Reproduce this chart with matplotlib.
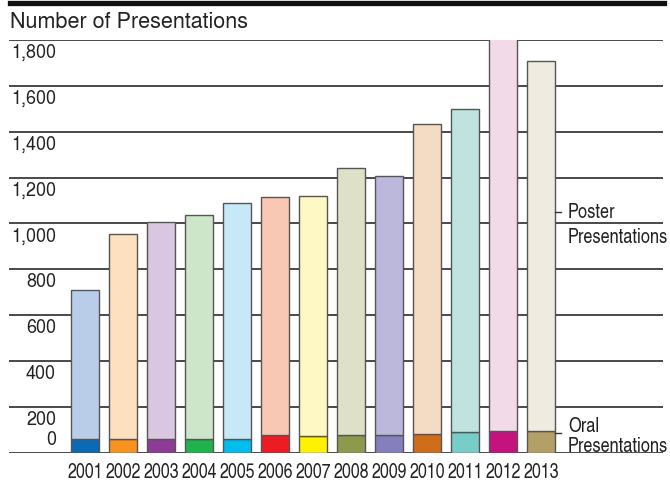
import matplotlib
matplotlib.use('Agg')
import matplotlib.pyplot as plt
from matplotlib.lines import Line2D
from matplotlib.transforms import offset_copy
import numpy as np

# данные
years = ['2001', '2002', '2003', '2004', '2005', '2006', '2007',
         '2008', '2009', '2010', '2011', '2012', '2013']
oral = [58, 58, 58, 58, 58, 77, 73, 77, 76, 80, 90, 95, 95]
poster = [652, 897, 947, 977, 1032, 1037, 1047, 1163, 1132, 1352, 1408, 1730, 1615]
yticks = [0, 200, 400, 600, 800, 1000, 1200, 1400, 1600, 1800]
ytick_labels = ['0', '200', '400', '600', '800', '1,000', '1,200', '1,400', '1,600', '1,800']

oral_colors = ['#0a6ab5', '#f7921e', '#8e3b97', '#20b24b', '#00bdf0', '#ec1c24', '#fef200',
               '#8c9a4c', '#8580bd', '#d06d1b', '#77cdc7', '#c6127f', '#b4a066']
poster_colors = ['#b9cde8', '#fde0c0', '#d9c6e0', '#cde5c9', '#c6e8f7', '#f9c8b4', '#fef8c4',
                 '#dfe0c8', '#bcb8dc', '#f4dbc4', '#c0e3e0', '#f3dae8', '#efebe0']

COND = 'TeX Gyre Heros Cn'
REG = 'TeX Gyre Heros'

W, H = 670, 483
fig = plt.figure(figsize=(W / 100, H / 100), dpi=100)

# оси: слева 9 px, справа 663 px, 0 на 452.7 px, 1800 на 40 px
ax_left, ax_right = 9.3, 663
ax_bottom, ax_top = 452.7, 40
ax = fig.add_axes([ax_left / W, (H - ax_bottom) / H,
                   (ax_right - ax_left) / W, (ax_bottom - ax_top) / H])

x = np.arange(len(years))
# пиксель -> координата: центр 2001 на 85 px, шаг 38 px
step, x0 = 38.0, 85.0
ax.set_xlim((ax_left - x0) / step, (ax_right - x0) / step)
ax.set_ylim(0, 1800)

for v in yticks:
    ax.axhline(v, color='#3a3a3a', lw=1.3, zorder=0)

ax.bar(x, oral, width=0.75, color=oral_colors, edgecolor='#555555', linewidth=1, zorder=2)
ax.bar(x, poster, bottom=oral, width=0.75, color=poster_colors,
       edgecolor='#555555', linewidth=1, zorder=2)

for s in ax.spines.values():
    s.set_visible(False)
ax.set_yticks([])
ax.set_xticks(x)
ax.set_xticklabels(years, family=COND, fontsize=14, color='#222222')
ax.tick_params(axis='x', length=0, pad=7.5)

# подписи оси Y под линиями сетки
label_x = (56 - x0) / step
for v, lab in zip(yticks, ytick_labels):
    dy = 13 if v == 0 else -13
    tr = offset_copy(ax.transData, fig=fig, y=dy, units='dots')
    ax.text(label_x, v, lab, transform=tr, ha='right', va='center',
            fontsize=13, family=REG, color='#222222')

# заголовок и толстая линия сверху
fig.add_artist(Line2D([10 / W, 664 / W], [(H - 2.5) / H, (H - 2.5) / H],
                      color='#111111', lw=3.8))
fig.text(10 / W, (H - 23) / H, 'Number of Presentations', ha='left', va='center',
         fontsize=15.5, family=REG, color='#222222')

# подписи справа
def side_label(y1, y2, yt, t1):
    fig.add_artist(Line2D([555 / W, 561 / W], [(H - yt) / H, (H - yt) / H],
                          color='#333333', lw=1))
    fig.text(568 / W, (H - y1) / H, t1, ha='left', va='center',
             fontsize=14.4, family=COND, color='#222222')
    fig.text(568 / W, (H - y2) / H, 'Presentations', ha='left', va='center',
             fontsize=14.4, family=COND, color='#222222')

side_label(212, 237, 212, 'Poster')
side_label(427, 446, 432.7, 'Oral')

fig.savefig('out.png', dpi=100)
